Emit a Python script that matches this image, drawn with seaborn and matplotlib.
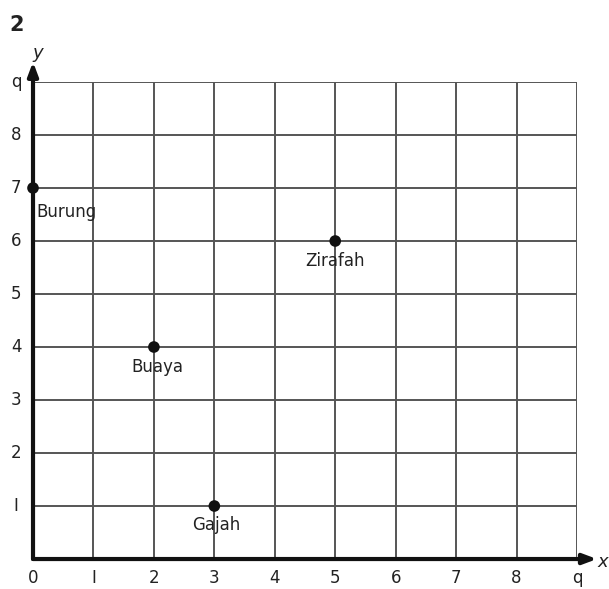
import matplotlib
matplotlib.use("Agg")
import matplotlib.pyplot as plt
import seaborn as sns
import pandas as pd

# animals on the grid
names = ["Burung", "Buaya", "Zirafah", "Gajah"]
xs = [0, 2, 5, 3]
ys = [7, 4, 6, 1]
tick_vals = list(range(10))
tick_text = ["0", "I", "2", "3", "4", "5", "6", "7", "8", "q"]

df = pd.DataFrame({"name": names, "x": xs, "y": ys})

sns.set_style("white")
plt.rcParams["font.family"] = ["DejaVu Sans"]

fig = plt.figure(figsize=(6.09, 5.89), dpi=100)
ax = fig.add_axes([0.0542, 0.0509, 0.8933, 0.8099])

# grid
for v in tick_vals[1:]:
    ax.axvline(v, color="#555555", lw=1.4, zorder=1)
    ax.axhline(v, color="#555555", lw=1.4, zorder=1)

sns.scatterplot(data=df, x="x", y="y", ax=ax, color="#111111", s=70,
                edgecolor="none", zorder=5, clip_on=False, legend=False)

# labels
ax.text(0.05, 6.55, "Burung", fontsize=12, ha="left", va="center", color="#222222")
ax.text(2.05, 3.62, "Buaya", fontsize=12, ha="center", va="center", color="#222222")
ax.text(5.0, 5.62, "Zirafah", fontsize=12, ha="center", va="center", color="#222222")
ax.text(3.03, 0.65, "Gajah", fontsize=12, ha="center", va="center", color="#222222")

ax.set_xlim(0, 9)
ax.set_ylim(0, 9)
for s in ax.spines.values():
    s.set_visible(False)
ax.set_xticks([])
ax.set_yticks([])
ax.set_xlabel("")
ax.set_ylabel("")

# thick axes with arrows
ax.annotate("", xy=(9.33, 0), xytext=(0, 0), xycoords="data",
            arrowprops=dict(arrowstyle="-|>,head_length=0.8,head_width=0.3",
                            color="#111111", lw=3, shrinkA=0, shrinkB=0),
            annotation_clip=False)
ax.annotate("", xy=(0, 9.38), xytext=(0, 0), xycoords="data",
            arrowprops=dict(arrowstyle="-|>,head_length=0.8,head_width=0.3",
                            color="#111111", lw=3, shrinkA=0, shrinkB=0),
            annotation_clip=False)

# tick labels
for v, t in zip(tick_vals, tick_text):
    ax.text(v, -0.35, t, fontsize=12, ha="center", va="center", color="#222222", clip_on=False)
    if v > 0:
        ax.text(-0.28, v, t, fontsize=12, ha="center", va="center", color="#222222", clip_on=False)

ax.text(9.43, -0.05, "x", fontsize=13, style="italic", ha="center", va="center", color="#222222")
ax.text(0.08, 9.55, "y", fontsize=13, style="italic", ha="center", va="center", color="#222222")
fig.text(0.027, 0.958, "2", fontsize=15, fontweight="bold", ha="center", va="center", color="#222222")

fig.savefig("out.png", dpi=100)
